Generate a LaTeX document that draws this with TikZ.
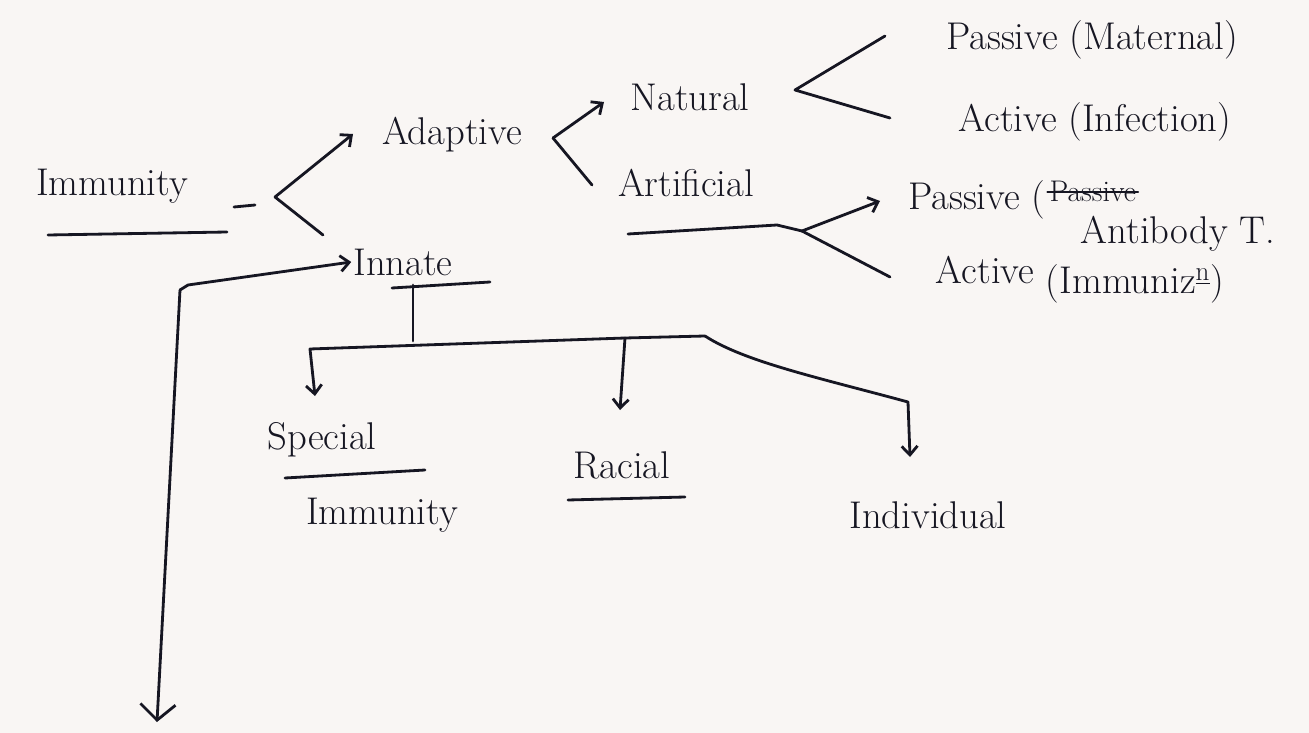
\documentclass[tikz,border=0pt]{standalone}
\usepackage{fontspec}
\usetikzlibrary{arrows.meta,calc}
\definecolor{ink}{RGB}{22,22,34}
\definecolor{paper}{RGB}{249,246,244}
\begin{document}
\begin{tikzpicture}[x=0.02cm,y=-0.02cm,
  lbl/.style={font=\fontsize{22}{26}\selectfont, text=ink, inner sep=1pt},
  pen/.style={draw=ink, line width=1.6pt, line cap=round, line join=round},
  arr/.style={-{Straight Barb[length=5pt,width=9pt]}},
  bigarr/.style={-{Straight Barb[length=9pt,width=20pt]}}]
\fill[paper] (0,0) rectangle (1309,733);
\useasboundingbox (0,0) rectangle (1309,733);

% nodes
\node[lbl] (imm) at (112,186) {Immunity};
\node[lbl] (adap) at (452,135) {Adaptive};
\node[lbl] (inn) at (403,262) {Innate};
\node[lbl] (nat) at (690,97) {Natural};
\node[lbl] (art) at (686,183) {Artificial};
\node[lbl] (pm) at (1092,40) {Passive (Maternal)};
\node[lbl] (ai) at (1095,122) {Active (Infection)};
\node[lbl,anchor=west] (pa) at (906,200) {Passive (};
\node[lbl,anchor=south west,font=\fontsize{17}{20}\selectfont] (pax) at ($(pa.east)+(0,4)$) {Passive};
\draw[pen,line width=1.1pt] (pax.west) -- (pax.east);
\node[lbl] (pab) at (1178,234) {Antibody T.};
\node[lbl] (aim) at (1080,280) {Active \raisebox{-0.6ex}{(Immuniz\textsuperscript{\underline{n}})}};
\node[lbl] (sp) at (322,440) {Special};
\node[lbl] (spi) at (382,515) {Immunity};
\node[lbl] (rac) at (622,465) {Racial};
\node[lbl] (ind) at (928,515) {Individual};

% coordinates
\coordinate (v1) at (275,197);
\coordinate (v2) at (553,138);
\coordinate (v3) at (795,90);
\coordinate (v4) at (802,231);
\coordinate (c1) at (180,290);
\coordinate (stem) at (413,285);
\coordinate (bj) at (413,341);
\coordinate (bl) at (310,349);
\coordinate (br) at (705,336);
\coordinate (bm) at (625,338);
\coordinate (bot) at (157,722);

% Immunity
\draw[pen] (48,235) -- (227,232);
\draw[pen] (234,207) -- (255,205);
\draw[pen,arr] (v1) -- (353,134);
\draw[pen] (v1) -- (323,235);

% Adaptive branch
\draw[pen,arr] (v2) -- (604,102);
\draw[pen] (v2) -- (592,185);

% Natural branch
\draw[pen] (885,36) -- (v3) -- (890,118);

% Artificial underline and branch
\draw[pen] (628,234) -- (777,225) -- (v4);
\draw[pen,arr] (v4) -- (880,201);
\draw[pen] (v4) -- (890,277);

% Innate
\draw[pen] (392,288) -- (490,282);
\draw[pen] (stem) -- (bj);
\draw[pen,arr] (c1) -- (188,285) -- (inn.west);
\draw[pen,bigarr] (c1) -- (bot);

% Innate sub-branches
\draw[pen,arr] (br) -- (bm) -- (bl) -- (315,396);
\draw[pen,arr] (bm) -- (620,410);
\draw[pen,arr] (br) .. controls (745,362) and (820,378) .. (908,402) -- (910,457);

% underlines
\draw[pen] (285,478) -- (425,470);
\draw[pen] (568,500) -- (685,497);
\end{tikzpicture}
\end{document}
